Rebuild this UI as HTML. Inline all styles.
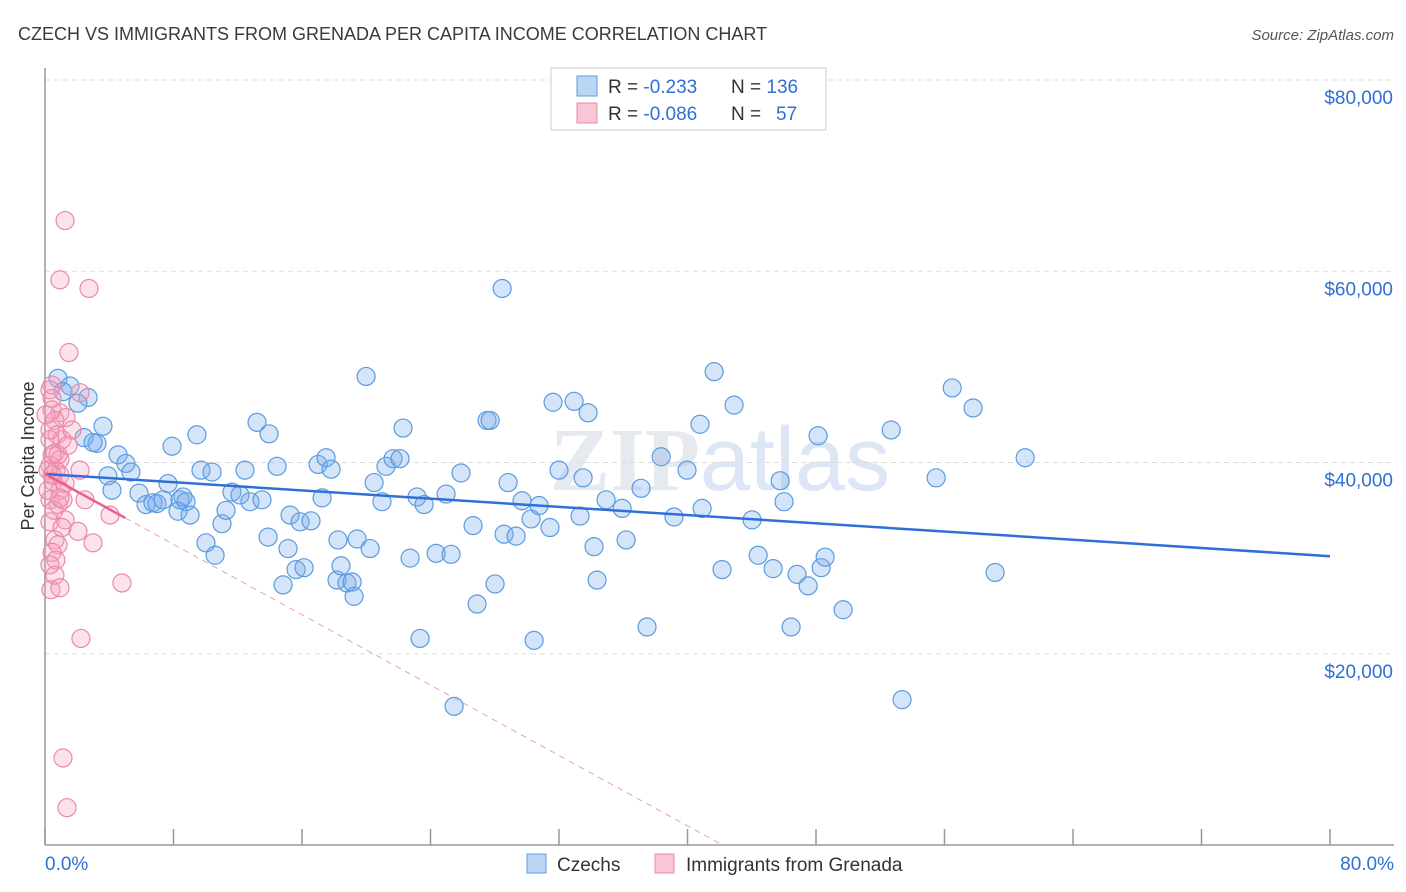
<!DOCTYPE html>
<html><head><meta charset="utf-8"><style>
body{margin:0;background:#fff;font-family:"Liberation Sans",sans-serif;}
#wrap{position:relative;width:1406px;height:892px;overflow:hidden;}
</style></head><body>
<div id="wrap">
<svg id="svg" width="1406" height="892" xmlns="http://www.w3.org/2000/svg">
<text x="18" y="40" font-size="18" fill="#3a3a3a">CZECH VS IMMIGRANTS FROM GRENADA PER CAPITA INCOME CORRELATION CHART</text>
<text x="1394" y="40" font-size="15" fill="#555" font-style="italic" text-anchor="end">Source: ZipAtlas.com</text>
<text x="720" y="490" font-size="90" fill="#e6e9ef" text-anchor="middle" font-family="Liberation Serif" font-weight="bold">ZIP<tspan fill="#dce6f5" font-family="Liberation Sans" font-weight="normal">atlas</tspan></text>
<text transform="translate(34,456) rotate(-90)" font-size="18" fill="#333" text-anchor="middle">Per Capita Income</text>
<g id="grid"></g><g id="axes"></g><g id="pts"></g><g id="lines"></g>
<g>
<rect x="551" y="68" width="275" height="62" fill="#fff" stroke="#ccc"/>
<rect x="577" y="76" width="20" height="20" fill="#bcd5f3" stroke="#5b9be0"/>
<rect x="577" y="103" width="20" height="20" fill="#f8c6d6" stroke="#e98aa8"/>
<text x="608" y="93" font-size="19" fill="#333">R = <tspan fill="#2f6fd6">-0.233</tspan><tspan x="731">N = </tspan><tspan fill="#2f6fd6">136</tspan></text>
<text x="608" y="120" font-size="19" fill="#333">R = <tspan fill="#2f6fd6">-0.086</tspan><tspan x="731">N = </tspan><tspan x="776" fill="#2f6fd6">57</tspan></text>
</g>
<g>
<rect x="527" y="854" width="19" height="19" fill="#bcd5f3" stroke="#5b9be0"/>
<text x="557" y="871" font-size="19" fill="#333">Czechs</text>
<rect x="655" y="854" width="19" height="19" fill="#f8c6d6" stroke="#e98aa8"/>
<text x="686" y="871" font-size="19" fill="#333">Immigrants from Grenada</text>
</g>
</svg></div>
<script>
const xTicks=[0,8,16,24,32,40,48,56,64,72,80];
const yTicks=[20000,40000,60000,80000];
const yTickLabels=["$20,000","$40,000","$60,000","$80,000"];
const blueX=[0.81,1.56,1.12,2.68,2.05,3.61,2.43,3.24,2.99,4.55,5.04,5.35,3.92,4.17,5.85,6.29,6.72,6.97,7.35,7.66,7.91,8.41,8.59,8.78,8.28,9.03,9.46,9.71,10.4,10.02,10.59,11.02,11.27,11.64,12.14,12.45,12.76,13.2,13.51,13.95,13.89,14.45,14.82,15.26,15.13,15.63,15.88,16.13,16.56,17.0,17.25,17.5,17.81,18.18,18.24,18.43,18.8,19.12,19.24,19.43,19.99,20.24,20.49,20.98,21.23,21.67,22.1,22.29,22.73,23.16,23.35,23.6,24.35,24.97,25.28,25.9,26.65,26.9,27.52,27.71,28.02,28.46,28.83,28.58,29.33,29.7,30.26,30.45,30.76,31.44,31.63,32.0,32.94,33.31,33.5,33.81,34.18,34.37,34.93,35.93,36.18,37.11,37.48,38.36,39.16,39.97,40.78,40.91,41.66,42.15,42.9,44.02,44.4,45.33,45.77,46.01,46.45,46.82,47.51,48.13,48.32,48.57,49.69,52.68,53.36,55.48,56.48,57.78,59.15,61.02,25.47];
const blueY=[48.8,48.0,47.4,46.8,46.2,43.8,42.6,42.0,42.1,40.8,39.9,39.0,38.6,37.1,36.8,35.6,35.8,35.7,36.1,37.8,41.7,36.1,36.4,35.9,34.9,34.5,42.9,39.2,39.0,31.6,30.3,33.6,35.0,36.9,36.6,39.2,35.9,44.2,36.1,43.0,32.2,39.6,27.2,34.5,31.0,28.8,33.8,29.0,33.9,39.8,36.3,40.5,39.3,27.7,31.9,29.2,27.4,27.5,26.0,32.0,49.0,31.0,37.9,35.9,39.6,40.4,40.4,43.6,30.0,36.4,21.6,35.6,30.5,36.7,30.4,38.9,33.4,25.2,44.4,44.4,27.3,58.2,37.9,32.5,32.3,36.0,34.1,21.4,35.5,33.2,46.3,39.2,46.4,34.4,38.4,45.2,31.2,27.7,36.1,35.2,31.9,37.3,22.8,40.6,34.3,39.2,44.0,35.2,49.5,28.8,46.0,34.0,30.3,28.9,38.1,35.9,22.8,28.3,27.1,42.8,29.0,30.1,24.6,43.4,15.2,38.4,47.8,45.7,28.5,40.5,14.5];
const pinkX=[1.25,0.93,2.74,1.49,2.18,0.93,1.31,0.44,0.31,0.44,0.44,0.62,0.75,1.06,1.68,0.31,0.62,0.93,0.31,0.68,0.93,2.18,0.5,1.25,0.93,2.49,0.31,0.81,1.12,1.25,0.31,2.05,0.62,2.99,0.81,0.44,0.68,0.31,0.62,0.37,0.93,4.05,4.79,2.24,1.12,1.37,0.19,0.19,0.56,1.06,0.81,1.43,0.31,0.06,0.44,0.93,0.44];
const pinkY=[65.3,59.1,58.2,51.5,47.3,45.2,44.7,48.1,47.6,46.7,45.5,44.4,42.9,42.4,43.4,42.4,41.0,40.3,39.7,39.2,38.7,39.2,38.0,37.8,37.1,36.1,36.1,35.6,36.1,34.0,33.8,32.8,31.9,31.6,31.4,30.6,29.8,29.3,28.2,26.7,26.9,34.5,27.4,21.6,9.1,3.9,39.2,37.1,35.0,33.2,40.8,41.8,43.4,45.0,40.8,36.3,38.7];
const blueTrend=[38.8,30.2]; // income (k) at x=0 and x=80
const pinkTrend=[38.8,-0.92]; // intercept (k), slope per %
const NS="http://www.w3.org/2000/svg";
const X0=45,X1=1330,Y0=845,Y80=80;
function sx(v){return X0+(v/80)*(X1-X0);}
function sy(v){return Y0-(v/80000)*(Y0-Y80);}
function mk(tag,attrs,parent){const e=document.createElementNS(NS,tag);for(const k in attrs)e.setAttribute(k,attrs[k]);parent.appendChild(e);return e;}
const grid=document.getElementById('grid'),axes=document.getElementById('axes'),pts=document.getElementById('pts'),lines=document.getElementById('lines');
yTicks.forEach((t,i)=>{
 const g=mk('line',{x1:X0,x2:1394,y1:sy(t),y2:sy(t),stroke:'#ddd','stroke-dasharray':'5,4'},grid);
 
 
 const l=mk('text',{x:1393,y:sy(t)+24,'font-size':19,fill:'#2f6fd6','text-anchor':'end'},axes);
 l.textContent=yTickLabels[i];
 
 
});
const ya=mk('line',{x1:X0,x2:X0,y1:68,y2:Y0,stroke:'#999','stroke-width':1.5},axes);


const xa=mk('line',{x1:X0,x2:1394,y1:Y0,y2:Y0,stroke:'#999','stroke-width':1.5},axes);


xTicks.forEach(t=>{
 const k=mk('line',{x1:sx(t),x2:sx(t),y1:Y0,y2:829,stroke:'#999','stroke-width':1.5},axes);
 
 
});
const xl0=mk('text',{x:45,y:870,'font-size':19,fill:'#2f6fd6'},axes);xl0.textContent='0.0%';


const xl1=mk('text',{x:1394,y:870,'font-size':19,fill:'#2f6fd6','text-anchor':'end'},axes);xl1.textContent='80.0%';


blueX.forEach((v,i)=>{
 const c=mk('circle',{cx:sx(v),cy:sy(blueY[i]*1000),r:9,fill:'rgba(120,170,235,0.32)',stroke:'#5b9be0','stroke-width':1.2},pts);
 
 
});
pinkX.forEach((v,i)=>{
 const c=mk('circle',{cx:sx(v),cy:sy(pinkY[i]*1000),r:9,fill:'rgba(245,160,190,0.3)',stroke:'#e98aa8','stroke-width':1.2},pts);
 
 
});
const bl=mk('line',{x1:sx(0),y1:sy(blueTrend[0]*1000),x2:sx(80),y2:sy(blueTrend[1]*1000),stroke:'#2f6fd6','stroke-width':2.5},lines);


const pEnd=5, pZero=-pinkTrend[0]/pinkTrend[1];
const pl=mk('line',{x1:sx(0),y1:sy(pinkTrend[0]*1000),x2:sx(pEnd),y2:sy((pinkTrend[0]+pinkTrend[1]*pEnd)*1000),stroke:'#e8608a','stroke-width':2.5},lines);


const pd=mk('line',{x1:sx(pEnd),y1:sy((pinkTrend[0]+pinkTrend[1]*pEnd)*1000),x2:sx(pZero),y2:sy(0),stroke:'#e8a0b8','stroke-width':1,'stroke-dasharray':'6,5'},lines);


</script>
</body></html>
